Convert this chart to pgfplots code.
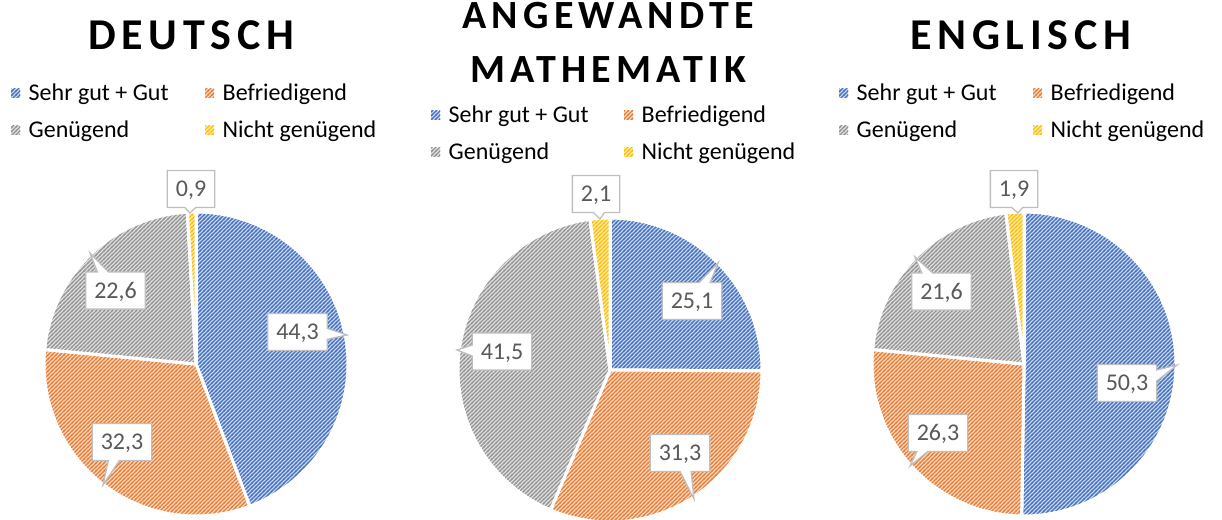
\documentclass[border=0pt]{standalone}
\usepackage{fontspec}
\setmainfont{Carlito}
\newfontfamily\titlefont[LetterSpace=13]{Carlito}
\usepackage{pgfplots}
\pgfplotsset{compat=1.18}
\usetikzlibrary{patterns,shapes.callouts}

\pgfdeclarepatternformonly{hatch}{\pgfqpoint{-1pt}{-1pt}}{\pgfqpoint{5pt}{5pt}}{\pgfqpoint{4pt}{4pt}}{%
  \pgfsetlinewidth{1.1pt}%
  \pgfpathmoveto{\pgfqpoint{-1pt}{-1pt}}%
  \pgfpathlineto{\pgfqpoint{5pt}{5pt}}%
  \pgfusepath{stroke}}

\definecolor{cB}{HTML}{4472C4}
\definecolor{cO}{HTML}{ED7D31}
\definecolor{cG}{HTML}{A5A5A5}
\definecolor{cY}{HTML}{FFC000}
\definecolor{labtxt}{HTML}{595959}
\definecolor{labbrd}{HTML}{BFBFBF}

\tikzset{
  sB/.style={preaction={fill=cB!28!white}, pattern=hatch, pattern color=cB},
  sO/.style={preaction={fill=cO!28!white}, pattern=hatch, pattern color=cO},
  sG/.style={preaction={fill=cG!30!white}, pattern=hatch, pattern color=cG!90!black},
  sY/.style={preaction={fill=cY!30!white}, pattern=hatch, pattern color=cY},
  slice/.style={draw=white, line width=3pt, line join=round, mark=none, samples=150},
  lab/.style={rectangle callout, draw=labbrd, line width=1.3pt, fill=white, text=labtxt,
    font=\fontsize{24}{28}\selectfont, inner xsep=8.5pt, inner ysep=0pt,
    minimum height=37pt, text height=15.5pt, text depth=0pt, callout pointer width=11pt},
}

% data (percent)
% Deutsch: 44.3, 32.3, 22.6, 0.9
\pgfmathsetmacro\DT{44.3+32.3+22.6+0.9}
\pgfmathsetmacro\DA{3.6*44.3*(100/\DT)}
\pgfmathsetmacro\DB{3.6*(44.3+32.3)*(100/\DT)}
\pgfmathsetmacro\DC{3.6*(44.3+32.3+22.6)*(100/\DT)}
% Angewandte Mathematik: 25.1, 31.3, 41.5, 2.1
\pgfmathsetmacro\MT{25.1+31.3+41.5+2.1}
\pgfmathsetmacro\MA{3.6*25.1*(100/\MT)}
\pgfmathsetmacro\MB{3.6*(25.1+31.3)*(100/\MT)}
\pgfmathsetmacro\MC{3.6*(25.1+31.3+41.5)*(100/\MT)}
% Englisch: 50.3, 26.3, 21.6, 1.9
\pgfmathsetmacro\ET{50.3+26.3+21.6+1.9}
\pgfmathsetmacro\EA{3.6*50.3*(100/\ET)}
\pgfmathsetmacro\EB{3.6*(50.3+26.3)*(100/\ET)}
\pgfmathsetmacro\EC{3.6*(50.3+26.3+21.6)*(100/\ET)}

\newcommand\legfont{\fontsize{24}{28}\selectfont}
\newcommand\leg[4]{%
  \fill[#3] ({#1*1pt},{-(#2-4.5)*1pt}) rectangle ({(#1+9)*1pt},{-(#2+4.5)*1pt});
  \node[anchor=base west, inner sep=0pt, font=\legfont, text=black] at ({(#1+17.5)*1pt},{-(#2+7.5)*1pt}) {#4};}
\newcommand\lab[5]{\node[lab, callout absolute pointer={(#3pt,-#4pt)}] at (#1pt,-#2pt) {#5};}
\newcommand\ttl[4]{\node[anchor=base, inner sep=0pt, font=\titlefont\bfseries\fontsize{#4}{#4}\selectfont] at (#1pt,-#2pt) {#3};}

\pgfplotsset{pie/.style={anchor=center, x=152pt, y=152pt, xmin=-1, xmax=1, ymin=-1, ymax=1, hide axis, clip=false}}

\begin{document}
\begin{tikzpicture}
\path[use as bounding box] (0,0) rectangle (1222pt,-519pt);

% ---------- Deutsch ----------
\begin{axis}[pie, at={(196pt,-364pt)}]
\addplot[slice, sB, domain=0:\DA] ({sin(x)},{cos(x)}) -- (axis cs:0,0) -- cycle;
\addplot[slice, sO, domain=\DA:\DB] ({sin(x)},{cos(x)}) -- (axis cs:0,0) -- cycle;
\addplot[slice, sG, domain=\DB:\DC] ({sin(x)},{cos(x)}) -- (axis cs:0,0) -- cycle;
\addplot[slice, sY, domain=\DC:360] ({sin(x)},{cos(x)}) -- (axis cs:0,0) -- cycle;
\end{axis}

% ---------- Angewandte Mathematik ----------
\begin{axis}[pie, at={(610pt,-370pt)}]
\addplot[slice, sB, domain=0:\MA] ({sin(x)},{cos(x)}) -- (axis cs:0,0) -- cycle;
\addplot[slice, sO, domain=\MA:\MB] ({sin(x)},{cos(x)}) -- (axis cs:0,0) -- cycle;
\addplot[slice, sG, domain=\MB:\MC] ({sin(x)},{cos(x)}) -- (axis cs:0,0) -- cycle;
\addplot[slice, sY, domain=\MC:360] ({sin(x)},{cos(x)}) -- (axis cs:0,0) -- cycle;
\end{axis}

% ---------- Englisch ----------
\begin{axis}[pie, at={(1024pt,-364pt)}]
\addplot[slice, sB, domain=0:\EA] ({sin(x)},{cos(x)}) -- (axis cs:0,0) -- cycle;
\addplot[slice, sO, domain=\EA:\EB] ({sin(x)},{cos(x)}) -- (axis cs:0,0) -- cycle;
\addplot[slice, sG, domain=\EB:\EC] ({sin(x)},{cos(x)}) -- (axis cs:0,0) -- cycle;
\addplot[slice, sY, domain=\EC:360] ({sin(x)},{cos(x)}) -- (axis cs:0,0) -- cycle;
\end{axis}

% titles
\ttl{191}{50}{DEUTSCH}{44}
\ttl{608}{29}{ANGEWANDTE}{40}
\ttl{608}{82}{MATHEMATIK}{40}
\ttl{1020.5}{50}{ENGLISCH}{44}

% legends
\leg{11}{93}{sB}{Sehr gut + Gut}
\leg{205}{93}{sO}{Befriedigend}
\leg{11}{130}{sG}{Genügend}
\leg{205}{130}{sY}{Nicht genügend}

\leg{431}{115}{sB}{Sehr gut + Gut}
\leg{624}{115}{sO}{Befriedigend}
\leg{431}{152}{sG}{Genügend}
\leg{624}{152}{sY}{Nicht genügend}

\leg{839}{93}{sB}{Sehr gut + Gut}
\leg{1033}{93}{sO}{Befriedigend}
\leg{839}{130}{sG}{Genügend}
\leg{1033}{130}{sY}{Nicht genügend}

% data labels
\lab{191}{189}{190}{213}{0,9}
\lab{297.5}{332}{347}{335}{44,3}
\lab{115.5}{290.5}{90}{253}{22,6}
\lab{122}{442}{103}{485}{32,3}

\lab{596}{194}{600}{219}{2,1}
\lab{692}{301}{718}{263}{25,1}
\lab{502}{351.5}{457}{350}{41,5}
\lab{680}{453}{694}{499}{31,3}

\lab{1014}{189}{1018}{213}{1,9}
\lab{941.5}{291.5}{915}{257}{21,6}
\lab{1127}{383}{1177}{365}{50,3}
\lab{938}{433}{910}{466}{26,3}
\end{tikzpicture}
\end{document}
